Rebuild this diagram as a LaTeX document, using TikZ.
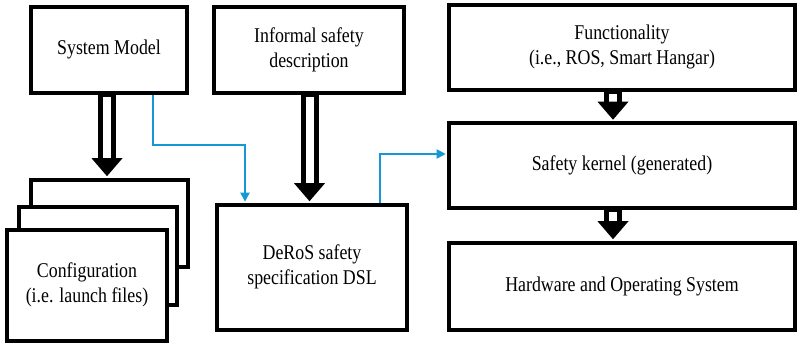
\documentclass[tikz,border=0pt]{standalone}
\usepackage{fontspec}
\usepackage{graphicx}
\setmainfont{Liberation Serif}
\usetikzlibrary{arrows.meta,calc}

\definecolor{flowblue}{RGB}{22,152,212}

% Narrow, centred label text (one or more lines separated by \\)
\newcommand\lbl[1]{\scalebox{0.85}[1]{\begin{tabular}{@{}c@{}}#1\end{tabular}}}

% Hollow "double-shaft" arrow: #1 start point, #2 tip point (shaft is vertical at the tip's x)
\newcommand\fatarrow[2]{%
  \path (#1) coordinate (fa-s) (#2) coordinate (fa-t);
  \fill[black] ($(fa-t |- fa-s)+(-9,0)$) rectangle ($(fa-t)+(9,-17)$);
  \fill[white] ($(fa-t |- fa-s)+(-4,2)$) rectangle ($(fa-t)+(4,-17)$);
  \fill[black] (fa-t) -- ($(fa-t)+(-15.5,-18)$) -- ($(fa-t)+(15.5,-18)$) -- cycle;
}

\begin{document}
\begin{tikzpicture}[x=1pt,y=-1pt,
  box/.style={draw=black, line width=3.6pt, fill=white, inner sep=0pt,
    font=\fontsize{21}{25}\selectfont},
  flow/.style={draw=flowblue, line width=2pt, -{Triangle[length=9pt,width=9pt]}}]
\useasboundingbox (0,0) rectangle (797,344);

% top row
\node[box, minimum width=156pt, minimum height=86pt] (sm)  at (109,50)  {\lbl{System Model}};
\node[box, minimum width=190pt, minimum height=86pt] (inf) at (309,50)  {\lbl{Informal safety\\description}};

% right column
\node[box, minimum width=346pt, minimum height=85pt] (fun) at (622,47.5)  {\lbl{Functionality\\(i.e., ROS, Smart Hangar)}};
\node[box, minimum width=346pt, minimum height=85pt] (ker) at (622,165.5) {\lbl{Safety kernel (generated)}};
\node[box, minimum width=346pt, minimum height=87pt] (hw)  at (622,286.5) {\lbl{Hardware and Operating System}};

% DSL
\node[box, minimum width=190pt, minimum height=125pt] (dsl) at (312,267.5) {\lbl{DeRoS safety\\specification DSL}};

% stack of configuration files
\node[box, minimum width=157pt, minimum height=87pt]  (cfgA) at (109.5,223.5) {};
\node[box, minimum width=158pt, minimum height=98pt]  (cfgB) at (98,256) {};
\node[box, minimum width=160pt, minimum height=111pt] (cfgC) at (87,285.5) {\lbl{Configuration\\(i.e. launch files)}};

% hollow arrows
\fatarrow{sm.south}{[xshift=-2.5pt,yshift=2pt]cfgA.north}
\fatarrow{inf.south}{[xshift=-2.5pt,yshift=2pt]dsl.north}
\fatarrow{fun.south}{[xshift=-9pt,yshift=1.5pt]ker.north}
\fatarrow{ker.south}{[xshift=-9pt,yshift=2pt]hw.north}

% blue connectors
\draw[flow, shorten >=1.5pt] ([xshift=44pt]sm.south) -- ++(0,50) -| ([xshift=-67pt]dsl.north);
\draw[flow, shorten >=1.5pt] ([xshift=68pt]dsl.north) |- ([yshift=11.5pt]ker.west);
\end{tikzpicture}
\end{document}
